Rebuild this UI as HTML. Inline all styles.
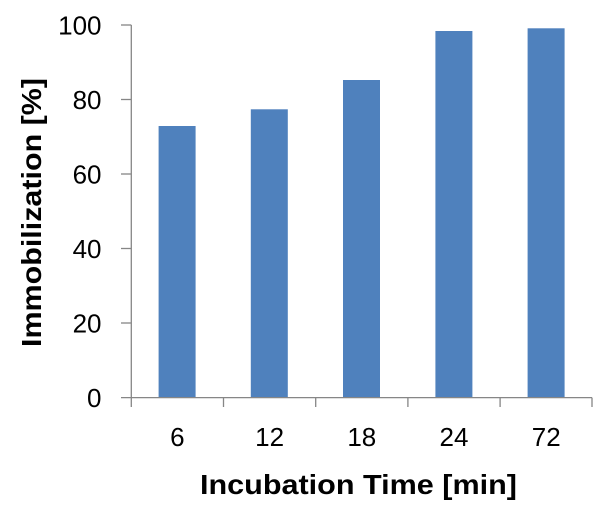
<!DOCTYPE html>
<html><head><meta charset="utf-8"><style>
html,body{margin:0;padding:0;background:#fff;}
svg{display:block;}
text{font-family:"Liberation Sans",sans-serif;fill:#000;}
</style></head><body>
<svg width="606" height="510" viewBox="0 0 606 510" xmlns="http://www.w3.org/2000/svg">
<rect width="606" height="510" fill="#fff"/>
<!-- bars -->
<g fill="#4f81bd">
<rect x="158.6" y="126" width="37" height="271.5"/>
<rect x="250.8" y="109.3" width="37" height="288.2"/>
<rect x="343" y="80" width="37" height="317.5"/>
<rect x="435.4" y="31" width="37" height="366.5"/>
<rect x="527.6" y="28.3" width="37" height="369.2"/>
</g>
<!-- axes -->
<g stroke="#868686" stroke-width="1.3" fill="none">
<line x1="131.3" y1="25" x2="131.3" y2="407"/>
<line x1="121" y1="397.6" x2="592" y2="397.6"/>
<line x1="121" y1="323" x2="131.3" y2="323"/>
<line x1="121" y1="248.5" x2="131.3" y2="248.5"/>
<line x1="121" y1="174" x2="131.3" y2="174"/>
<line x1="121" y1="99.5" x2="131.3" y2="99.5"/>
<line x1="121" y1="25" x2="131.3" y2="25"/>
<line x1="223.5" y1="397.6" x2="223.5" y2="407"/>
<line x1="315.7" y1="397.6" x2="315.7" y2="407"/>
<line x1="407.9" y1="397.6" x2="407.9" y2="407"/>
<line x1="500.1" y1="397.6" x2="500.1" y2="407"/>
<line x1="592" y1="397.6" x2="592" y2="407"/>
</g>
<!-- y tick labels -->
<g font-size="26" text-anchor="end">
<text x="101.5" y="407">0</text>
<text x="101.5" y="332.4">20</text>
<text x="101.5" y="257.9">40</text>
<text x="101.5" y="183.4">60</text>
<text x="101.5" y="108.9">80</text>
<text x="101.5" y="34.4">100</text>
</g>
<!-- x tick labels -->
<g font-size="26" text-anchor="middle">
<text x="177.4" y="446">6</text>
<text x="269.6" y="446">12</text>
<text x="361.8" y="446">18</text>
<text x="454" y="446">24</text>
<text x="546.2" y="446">72</text>
</g>
<!-- axis titles -->
<text x="200" y="494" font-size="28" font-weight="bold" textLength="317" lengthAdjust="spacingAndGlyphs">Incubation Time [min]</text>
<text transform="translate(41,347) rotate(-90)" x="0" y="0" font-size="28" font-weight="bold" textLength="269" lengthAdjust="spacingAndGlyphs">Immobilization [%]</text>
</svg>
</body></html>
